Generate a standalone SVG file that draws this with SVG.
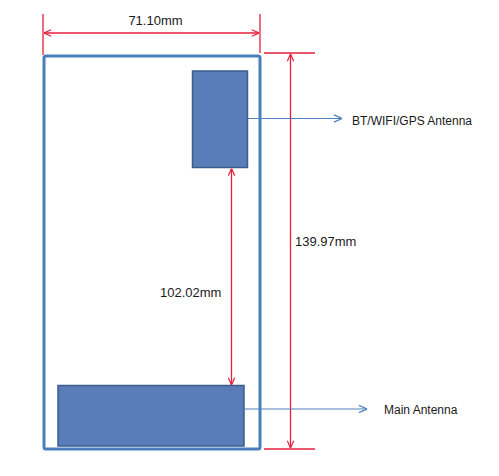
<svg xmlns="http://www.w3.org/2000/svg" width="499" height="476" viewBox="0 0 499 476">
<style>
.dim{stroke:#E4203C;stroke-width:1.3;fill:none}
.ant{fill:#5A7DB9;stroke:#3A5D8C;stroke-width:1.5}
.ptr{stroke:#4F81BD;stroke-width:1.2;fill:none}
text{font-family:"Liberation Sans",Arial,sans-serif;fill:#1a1a1a}
</style>
<defs>
<marker id="ra" viewBox="0 0 10 10" refX="10" refY="5" markerWidth="8" markerHeight="8" markerUnits="userSpaceOnUse" orient="auto-start-reverse">
<path d="M1,1 L10,5 L1,9" fill="none" stroke="#E4203C" stroke-width="1.5"/>
</marker>
<marker id="ba" viewBox="0 0 10 10" refX="10" refY="5" markerWidth="9" markerHeight="9" markerUnits="userSpaceOnUse" orient="auto">
<path d="M1,1 L10,5 L1,9" fill="none" stroke="#4F81BD" stroke-width="1.3"/>
</marker>
</defs>
<rect width="499" height="476" fill="#fff"/>
<g id="phone">
<rect x="44" y="56" width="216" height="393" rx="2" fill="none" stroke="#4A7EBB" stroke-width="3"/>
</g>
<g id="bt-antenna">
<rect class="ant" x="192.5" y="71" width="55" height="96.5"/>
</g>
<g id="main-antenna">
<rect class="ant" x="58" y="385.5" width="186" height="60.5"/>
</g>
<g id="connectors">
<line class="dim" x1="43" y1="14" x2="43" y2="55"/>
<line class="dim" x1="260" y1="14" x2="260" y2="53"/>
<line class="dim" x1="44" y1="33" x2="259" y2="33" marker-start="url(#ra)" marker-end="url(#ra)"/>
<line class="dim" x1="264" y1="53" x2="315" y2="53"/>
<line class="dim" x1="264" y1="449" x2="315" y2="449"/>
<line class="dim" x1="290.5" y1="54" x2="290.5" y2="448" marker-start="url(#ra)" marker-end="url(#ra)"/>
<line class="dim" x1="231.5" y1="168.5" x2="231.5" y2="385" marker-start="url(#ra)" marker-end="url(#ra)"/>
<line class="ptr" x1="248" y1="118.5" x2="342" y2="118.5" marker-end="url(#ba)"/>
<line class="ptr" x1="244" y1="409" x2="367" y2="409" marker-end="url(#ba)"/>
</g>
<g id="labels">
<text x="155.5" y="25" font-size="13" text-anchor="middle">71.10mm</text>
<text x="295" y="246" font-size="13">139.97mm</text>
<text x="160" y="297" font-size="13">102.02mm</text>
<text x="352" y="125" font-size="12">BT/WIFI/GPS Antenna</text>
<text x="384" y="414" font-size="12">Main Antenna</text>
</g>
</svg>
